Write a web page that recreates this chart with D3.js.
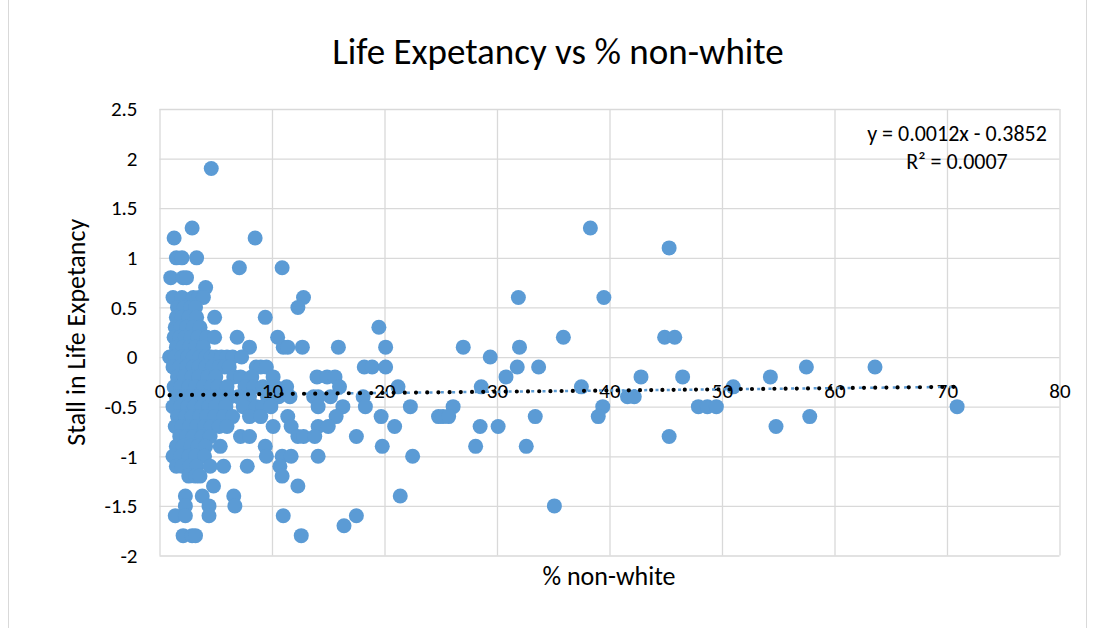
<!DOCTYPE html>
<html>
<head>
<meta charset="utf-8">
<script src="https://cdn.jsdelivr.net/npm/d3@7"></script>
<style>
  body { margin: 0; background: #fff; }
  text { font-family: Carlito, Calibri, Lato, sans-serif; fill: #000; }
</style>
</head>
<body>
<div id="chart"></div>
<script>
// % non-white (x) and stall in life expectancy (y)
var pctNonWhite = [
    4.6,
    2.9, 38.3,
    1.3, 8.5,
    45.3,
    1.5, 2.0, 3.3,
    7.1, 10.9,
    1.0, 2.1, 2.4,
    4.1,
    1.2, 2.0, 3.0, 3.5, 3.9, 12.8, 31.9, 39.5,
    1.6, 2.2, 2.8, 3.2, 12.3,
    1.5, 2.0, 2.6, 3.3, 4.9, 9.4,
    1.4, 1.9, 2.4, 3.0, 3.6, 19.5,
    1.3, 1.8, 2.3, 2.8, 3.4, 4.2, 4.9, 6.9, 10.5, 35.9, 44.9, 45.8,
    1.5, 2.1, 2.7, 3.2, 3.9, 8.0, 11.0, 11.4, 12.7, 15.9, 20.1, 27.0, 32.0,
    0.9, 1.4, 2.0, 2.5, 3.0, 3.6, 4.1, 4.6, 5.0, 5.5, 6.0, 6.5, 7.3, 29.4,
    1.2, 1.8, 2.4, 3.0, 3.5, 4.1, 4.7, 5.3, 5.8, 6.2, 8.6, 9.0, 9.5, 18.2, 18.9, 20.1, 31.8, 33.7, 57.5, 63.6,
    1.6, 2.2, 2.9, 3.5, 4.3, 5.0, 6.6, 7.2, 8.2, 10.1, 14.0, 14.9, 15.6, 30.8, 42.8, 46.5, 54.3,
    1.3, 1.9, 2.6, 3.2, 3.9, 4.6, 5.2, 6.0, 7.6, 8.4, 9.2, 10.3, 11.3, 16.0, 21.2, 28.6, 37.5, 51.0,
    1.5, 2.1, 2.8, 3.4, 4.0, 4.8, 5.5, 6.3, 7.0, 8.0, 9.6, 10.6, 11.6, 13.7, 14.1, 15.2, 18.1, 41.6, 42.2,
    1.2, 1.9, 2.5, 3.1, 3.8, 4.4, 5.0, 5.9, 7.45, 8.6, 9.2, 9.9, 14.1, 16.3, 18.3, 22.3, 26.1, 39.4, 47.9, 48.7, 49.5, 70.9,
    1.6, 2.3, 2.9, 3.6, 4.2, 4.9, 5.7, 6.5, 8.0, 9.0, 11.4, 15.7, 19.7, 24.8, 25.2, 25.7, 33.4, 39.0, 57.8,
    1.4, 2.0, 2.7, 3.3, 4.0, 4.6, 5.3, 6.0, 10.1, 11.7, 14.1, 15.0, 20.9, 28.5, 30.1, 54.8,
    1.8, 2.4, 3.0, 3.8, 4.5, 7.2, 8.0, 12.3, 12.8, 13.8, 17.5, 45.3,
    1.5, 2.1, 2.8, 3.4, 4.1, 5.4, 9.4, 19.8, 28.1, 32.6,
    1.2, 1.9, 2.6, 3.2, 4.0, 9.5, 10.9, 11.7, 14.1, 22.5,
    1.5, 2.0, 2.7, 3.3, 4.5, 5.7, 7.8, 10.7,
    2.6, 3.2, 3.6, 10.9,
    4.8, 12.3,
    2.3, 3.8, 6.6, 21.4,
    2.3, 4.4, 6.7, 35.1,
    1.4, 2.3, 4.4, 11.0, 17.5,
    16.4,
    2.1, 2.9, 3.2, 12.6
];
var lifeStall = [
    1.9,
    1.3, 1.3,
    1.2, 1.2,
    1.1,
    1.0, 1.0, 1.0,
    0.9, 0.9,
    0.8, 0.8, 0.8,
    0.7,
    0.6, 0.6, 0.6, 0.6, 0.6, 0.6, 0.6, 0.6,
    0.5, 0.5, 0.5, 0.5, 0.5,
    0.4, 0.4, 0.4, 0.4, 0.4, 0.4,
    0.3, 0.3, 0.3, 0.3, 0.3, 0.3,
    0.2, 0.2, 0.2, 0.2, 0.2, 0.2, 0.2, 0.2, 0.2, 0.2, 0.2, 0.2,
    0.1, 0.1, 0.1, 0.1, 0.1, 0.1, 0.1, 0.1, 0.1, 0.1, 0.1, 0.1, 0.1,
    0, 0, 0, 0, 0, 0, 0, 0, 0, 0, 0, 0, 0, 0,
    -0.1, -0.1, -0.1, -0.1, -0.1, -0.1, -0.1, -0.1, -0.1, -0.1, -0.1, -0.1, -0.1, -0.1, -0.1, -0.1, -0.1, -0.1, -0.1, -0.1,
    -0.2, -0.2, -0.2, -0.2, -0.2, -0.2, -0.2, -0.2, -0.2, -0.2, -0.2, -0.2, -0.2, -0.2, -0.2, -0.2, -0.2,
    -0.3, -0.3, -0.3, -0.3, -0.3, -0.3, -0.3, -0.3, -0.3, -0.3, -0.3, -0.3, -0.3, -0.3, -0.3, -0.3, -0.3, -0.3,
    -0.4, -0.4, -0.4, -0.4, -0.4, -0.4, -0.4, -0.4, -0.4, -0.4, -0.4, -0.4, -0.4, -0.4, -0.4, -0.4, -0.4, -0.4, -0.4,
    -0.5, -0.5, -0.5, -0.5, -0.5, -0.5, -0.5, -0.5, -0.5, -0.5, -0.5, -0.5, -0.5, -0.5, -0.5, -0.5, -0.5, -0.5, -0.5, -0.5, -0.5, -0.5,
    -0.6, -0.6, -0.6, -0.6, -0.6, -0.6, -0.6, -0.6, -0.6, -0.6, -0.6, -0.6, -0.6, -0.6, -0.6, -0.6, -0.6, -0.6, -0.6,
    -0.7, -0.7, -0.7, -0.7, -0.7, -0.7, -0.7, -0.7, -0.7, -0.7, -0.7, -0.7, -0.7, -0.7, -0.7, -0.7,
    -0.8, -0.8, -0.8, -0.8, -0.8, -0.8, -0.8, -0.8, -0.8, -0.8, -0.8, -0.8,
    -0.9, -0.9, -0.9, -0.9, -0.9, -0.9, -0.9, -0.9, -0.9, -0.9,
    -1.0, -1.0, -1.0, -1.0, -1.0, -1.0, -1.0, -1.0, -1.0, -1.0,
    -1.1, -1.1, -1.1, -1.1, -1.1, -1.1, -1.1, -1.1,
    -1.2, -1.2, -1.2, -1.2,
    -1.3, -1.3,
    -1.4, -1.4, -1.4, -1.4,
    -1.5, -1.5, -1.5, -1.5,
    -1.6, -1.6, -1.6, -1.6, -1.6,
    -1.7,
    -1.8, -1.8, -1.8, -1.8
];
var xTicks = [0, 10, 20, 30, 40, 50, 60, 70, 80];
var yTicks = [-2, -1.5, -1, -0.5, 0, 0.5, 1, 1.5, 2, 2.5];
var trendSlope = 0.0012;
var trendIntercept = -0.3852;
var trendText = ["y = 0.0012x - 0.3852", "R² = 0.0007"];

var w = 1095, h = 628;
var plotLeft = 159.5, plotRight = 1059.5, plotTop = 109, plotBottom = 555.5;

var svg = d3.select("#chart").append("svg")
    .attr("width", w)
    .attr("height", h);

svg.append("rect")
    .attr("x", 8.5).attr("y", -2)
    .attr("width", 1078).attr("height", 640)
    .attr("fill", "#fff")
    .attr("stroke", "#d9d9d9");

var x = d3.scaleLinear().domain([0, 80]).range([plotLeft, plotRight]);
var y = d3.scaleLinear().domain([-2, 2.5]).range([plotBottom, plotTop]);

// plain hyphen for negatives, like the spreadsheet
var plainFormat = d => String(d);

// vertical gridlines
svg.append("g")
    .attr("transform", "translate(0," + plotBottom + ")")
    .call(d3.axisBottom(x).tickValues(xTicks).tickSize(-(plotBottom - plotTop)).tickFormat(""))
    .call(g => g.select(".domain").remove())
    .call(g => g.selectAll("line").attr("stroke", "#d9d9d9").attr("stroke-width", 1.3));

// horizontal gridlines + y labels
svg.append("g")
    .attr("transform", "translate(" + plotLeft + ",0)")
    .call(d3.axisLeft(y).tickValues(yTicks).tickSize(-(plotRight - plotLeft)).tickPadding(22).tickFormat(plainFormat))
    .call(g => g.select(".domain").remove())
    .call(g => g.selectAll("line").attr("stroke", "#d9d9d9").attr("stroke-width", 1.3))
    .call(g => g.selectAll("text").style("font-size", "21px").attr("fill", "#000"));

// points
svg.append("g").selectAll("circle")
    .data(pctNonWhite)
    .enter()
    .append("circle")
    .attr("cx", d => x(d))
    .attr("cy", (d, i) => y(lifeStall[i]))
    .attr("r", 7.5)
    .attr("fill", "#5b9bd5");

// x labels sit on the zero line
svg.append("g")
    .attr("transform", "translate(0," + y(0) + ")")
    .call(d3.axisBottom(x).tickValues(xTicks).tickSize(0).tickPadding(26).tickFormat(plainFormat))
    .call(g => g.select(".domain").remove())
    .call(g => g.selectAll("text").style("font-size", "21px").attr("fill", "#000"));

// linear trendline
var xMin = d3.min(pctNonWhite), xMax = d3.max(pctNonWhite);
var trend = [xMin, xMax].map(v => [x(v), y(trendSlope * v + trendIntercept)]);
svg.append("path")
    .attr("d", d3.line()(trend))
    .attr("stroke", "#5b9bd5")
    .attr("stroke-width", 2.5)
    .attr("stroke-dasharray", "3 8.3")
    .attr("fill", "none");
svg.append("path")
    .attr("d", d3.line()(trend))
    .attr("stroke", "#000")
    .attr("stroke-width", 4.2)
    .attr("stroke-linecap", "round")
    .attr("stroke-dasharray", "0 11.2")
    .attr("fill", "none");

svg.append("text")
    .attr("x", 558).attr("y", 64)
    .attr("text-anchor", "middle")
    .style("font-size", "37px")
    .text("Life Expetancy vs % non-white");

svg.append("text")
    .attr("transform", "translate(85," + ((plotTop + plotBottom) / 2) + ") rotate(-90)")
    .attr("text-anchor", "middle")
    .style("font-size", "26px")
    .text("Stall in Life Expetancy");

svg.append("text")
    .attr("x", 609).attr("y", 585)
    .attr("text-anchor", "middle")
    .style("font-size", "26px")
    .text("% non-white");

svg.selectAll(".eq")
    .data(trendText)
    .enter()
    .append("text")
    .attr("class", "eq")
    .attr("x", 957)
    .attr("y", (d, i) => 141 + i * 28)
    .attr("text-anchor", "middle")
    .style("font-size", "22px")
    .text(d => d);
</script>
</body>
</html>
